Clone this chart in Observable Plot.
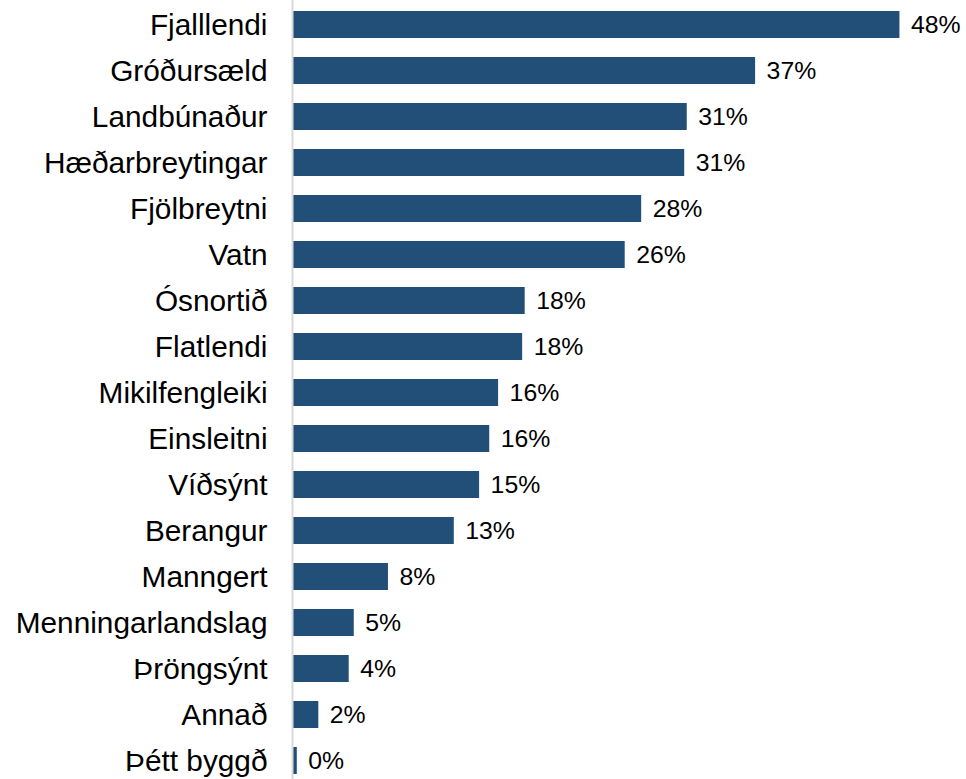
<!DOCTYPE html>
<html>
<head>
<meta charset="utf-8">
<script src="https://cdn.jsdelivr.net/npm/d3@7"></script>
<script src="https://cdn.jsdelivr.net/npm/@observablehq/plot@0.6"></script>
<style>
  html, body { margin: 0; padding: 0; background: #ffffff; }
  #chart svg { display: block; }
</style>
</head>
<body>
<div id="chart"></div>
<script>
const categories = [
  "Fjalllendi", "Gróðursæld", "Landbúnaður", "Hæðarbreytingar", "Fjölbreytni",
  "Vatn", "Ósnortið", "Flatlendi", "Mikilfengleiki", "Einsleitni", "Víðsýnt",
  "Berangur", "Manngert", "Menningarlandslag", "Þröngsýnt", "Annað", "Þétt byggð"
];
const values = [47.9, 36.5, 31.1, 30.9, 27.5, 26.2, 18.3, 18.1, 16.2, 15.5, 14.7, 12.7, 7.5, 4.8, 4.4, 2.0, 0.3];
const valueLabels = ["48%", "37%", "31%", "31%", "28%", "26%", "18%", "18%", "16%", "16%", "15%", "13%", "8%", "5%", "4%", "2%", "0%"];

const data = categories.map((c, i) => ({ category: c, value: values[i], label: valueLabels[i] }));

const chart = Plot.plot({
  width: 966,
  height: 779,
  marginLeft: 293,
  marginRight: 2,
  marginTop: 6,
  marginBottom: 0,
  style: { fontFamily: "'Liberation Sans', Arial, sans-serif", background: "#ffffff", color: "#000000" },
  x: { domain: [0, 53], axis: null },
  y: { domain: categories, paddingInner: 0.42, paddingOuter: 0.08, axis: null },
  marks: [
    Plot.barX(data, { x: "value", y: "category", fill: "#214f78" }),
    Plot.ruleX([0], { stroke: "#d9d9d9", strokeWidth: 2, dx: -1, insetTop: -6 }),
    Plot.text(data, { x: "value", y: "category", text: "label", dx: 11, textAnchor: "start", fontSize: 24.8, fill: "#000000" }),
    Plot.axisY({ tickSize: 0, tickPadding: 26, fontSize: 29.8, label: null, fill: "#000000" })
  ]
});
document.getElementById("chart").appendChild(chart);
</script>
</body>
</html>
